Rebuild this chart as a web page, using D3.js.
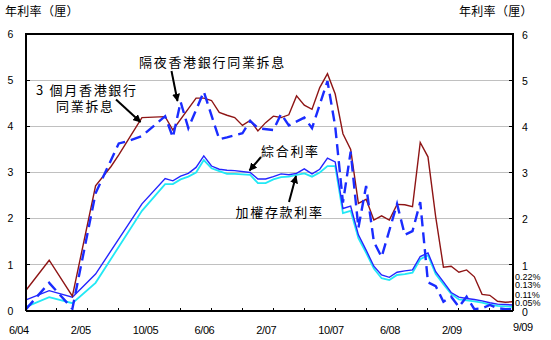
<!DOCTYPE html>
<html><head><meta charset="utf-8">
<script src="https://cdn.jsdelivr.net/npm/d3@7"></script>
<style>
body{margin:0;background:#fff;}
svg{display:block;}
.cjk{font-family:"Noto Sans CJK TC","Noto Sans CJK SC",sans-serif;}
.num{font-family:"Liberation Sans",Arial,sans-serif;}
</style>
</head><body>
<svg id="c" width="551" height="340"></svg>
<script>
// ---------- DATA ----------
const hibor3mDates = ["2004-06","2004-09","2004-12","2005-03","2005-05","2005-06","2005-09","2005-12","2006-01","2006-04","2006-05","2006-06","2006-07","2006-08","2006-09","2006-10","2006-11","2006-12","2007-01","2007-02","2007-03","2007-04","2007-05","2007-06","2007-07","2007-08","2007-09","2007-10","2007-11","2007-12","2008-01","2008-02","2008-03","2008-04","2008-05","2008-06","2008-07","2008-08","2008-09","2008-10","2008-11","2008-12","2009-01","2009-02","2009-03","2009-04","2009-05","2009-06","2009-07","2009-08","2009-09"];
const hibor3mValues = [0.45,1.10,0.32,2.71,3.13,3.38,4.19,4.21,3.92,4.61,4.61,4.56,4.30,4.24,4.19,4.02,4.13,3.90,4.08,4.22,4.19,4.25,4.66,4.46,4.37,4.84,5.14,4.70,3.84,3.50,2.33,2.42,1.97,2.06,1.97,2.31,2.30,2.26,3.65,3.34,2.04,0.95,0.97,0.84,0.89,0.74,0.36,0.34,0.21,0.19,0.20];

const hiborONDates = ["2004-06","2004-09","2004-12","2005-03","2005-06","2005-07","2005-09","2005-12","2006-01","2006-02","2006-03","2006-05","2006-07","2006-08","2006-10","2006-11","2006-12","2007-02","2007-03","2007-04","2007-06","2007-07","2007-09","2007-10","2007-11","2007-12","2008-01","2008-02","2008-03","2008-04","2008-06","2008-07","2008-08","2008-09","2008-10","2008-11","2008-12","2009-01","2009-02","2009-03","2009-04","2009-05","2009-06","2009-07","2009-08","2009-09"];
const hiborONValues = [0.04,0.61,0.05,2.55,3.63,3.67,3.79,4.22,3.76,4.53,3.96,4.75,3.72,3.76,3.85,4.12,3.96,3.92,4.27,4.02,4.19,3.96,4.98,4.00,2.35,3.45,1.80,2.71,1.50,1.17,2.32,1.65,1.73,2.36,0.62,0.54,0.20,0.31,0.09,0.31,0.04,0.06,0.13,0.06,0.04,0.04];

const rateDates = ["2004-06","2004-09","2004-12","2005-03","2005-09","2005-12","2006-01","2006-02","2006-03","2006-04","2006-05","2006-06","2006-07","2006-08","2006-09","2006-11","2006-12","2007-01","2007-02","2007-03","2007-04","2007-05","2007-06","2007-07","2007-08","2007-09","2007-10","2007-11","2007-12","2008-01","2008-02","2008-03","2008-04","2008-05","2008-06","2008-07","2008-08","2008-09","2008-10","2008-11","2008-12","2009-01","2009-02","2009-03","2009-04","2009-05","2009-06","2009-07","2009-08","2009-09"];
const compositeValues = [0.24,0.44,0.30,0.80,2.32,2.87,2.82,2.92,2.98,3.11,3.36,3.14,3.07,3.05,3.04,3.00,2.86,2.86,2.91,2.97,2.95,2.98,3.08,2.97,3.07,3.31,3.23,2.22,2.27,1.65,1.32,0.97,0.78,0.73,0.84,0.87,0.89,1.18,1.26,0.85,0.63,0.40,0.30,0.27,0.25,0.22,0.18,0.15,0.14,0.13];
const depositValues = [0.09,0.30,0.17,0.61,2.17,2.75,2.75,2.85,2.91,3.00,3.27,3.09,3.03,2.97,2.97,2.95,2.77,2.77,2.85,2.90,2.91,2.95,2.98,2.91,3.00,3.14,3.14,2.12,2.17,1.58,1.26,0.92,0.71,0.67,0.78,0.80,0.83,1.12,1.21,0.80,0.58,0.37,0.25,0.23,0.21,0.18,0.14,0.11,0.10,0.09];

const xTickLabels = ["6/04","2/05","10/05","6/06","2/07","10/07","6/08","2/09"];
const xEndLabel = "9/09";
const yTicks = [0,1,2,3,4,5,6];
const endValueLabels = ["0.22%","0.13%","0.11%","0.05%"];

// ---------- LAYOUT ----------
const svg = d3.select("#c");
const L = 26, R = 513, T = 34, B = 311;
const startYear = 2004, startMonth = 6;
const idx = s => { const [y,m] = s.split("-").map(Number); return (y-startYear)*12 + (m-startMonth); };
const labelIdx = s => { const [m,y] = s.split("/").map(Number); return (2000+y-startYear)*12 + (m-startMonth); };

const x = d3.scaleLinear().domain([0, idx("2009-09")]).range([L, R]);
const y = d3.scaleLinear().domain([0, 6]).range([B, T]);

// gridlines
svg.append("g").selectAll("line").data(yTicks.filter(v => v > 0 && v < 6)).join("line")
  .attr("x1", L).attr("x2", R).attr("y1", d => y(d)).attr("y2", d => y(d))
  .attr("stroke", "#c0c0c0").attr("stroke-width", 1).attr("shape-rendering","crispEdges");

// series
const line = d3.line().x(d => x(d[0])).y(d => y(d[1]));
function series(dates, vals){ return dates.map((d,i) => [idx(d), vals[i]]); }

svg.append("path").datum(series(rateDates, depositValues)).attr("d", line)
  .attr("fill","none").attr("stroke","#22e8f5").attr("stroke-width",1.8);
svg.append("path").datum(series(rateDates, compositeValues)).attr("d", line)
  .attr("fill","none").attr("stroke","#2424ff").attr("stroke-width",1.4);
svg.append("path").datum(series(hibor3mDates, hibor3mValues)).attr("d", line)
  .attr("fill","none").attr("stroke","#8e1515").attr("stroke-width",1.4);
svg.append("path").datum(series(hiborONDates, hiborONValues)).attr("d", line)
  .attr("fill","none").attr("stroke","#1a2cff").attr("stroke-width",2.4)
  .attr("stroke-dasharray","11,6");

// frame
svg.append("path").attr("d", `M${L},${B}V${T}H${R}V${B}`).attr("fill","none")
  .attr("stroke","#000").attr("stroke-width",1.2).attr("shape-rendering","crispEdges");
svg.append("line").attr("x1",L).attr("x2",R).attr("y1",B).attr("y2",B)
  .attr("stroke","#000").attr("stroke-width",1.5).attr("shape-rendering","crispEdges");

// y ticks (inward) + labels
const yl = svg.append("g").attr("class","num").attr("font-size","10.5px");
yl.selectAll("line.l").data(yTicks).join("line").attr("class","l")
  .attr("x1",L).attr("x2",L+4).attr("y1",d=>y(d)).attr("y2",d=>y(d)).attr("stroke","#000").attr("shape-rendering","crispEdges");
yl.selectAll("line.r").data(yTicks).join("line").attr("class","r")
  .attr("x1",R-4).attr("x2",R).attr("y1",d=>y(d)).attr("y2",d=>y(d)).attr("stroke","#000").attr("shape-rendering","crispEdges");
yl.selectAll("text.l").data(yTicks).join("text").attr("class","l")
  .attr("x",10.5).attr("y",d=>y(d)).attr("dy","0.36em").attr("text-anchor","middle").text(d=>d);
yl.selectAll("text.r").data(yTicks).join("text").attr("class","r")
  .attr("x",522).attr("y",d=>y(d)+1).attr("dy","0.36em").attr("text-anchor","start").text(d=>d);

// x ticks (inward, every 4 months)
const xTicks = d3.range(0, idx("2009-09"), 4);
svg.append("g").selectAll("line").data(xTicks).join("line")
  .attr("x1",d=>x(d)).attr("x2",d=>x(d)).attr("y1",B).attr("y2",B-3.5)
  .attr("stroke","#000").attr("shape-rendering","crispEdges");
const xl = svg.append("g").attr("class","num").attr("font-size","11px").attr("letter-spacing","-0.4px");
xl.selectAll("text").data(xTickLabels).join("text")
  .attr("x", d => x(labelIdx(d)) - 17).attr("y", 334).attr("text-anchor","start").text(d=>d);
xl.append("text").attr("x", x(labelIdx(xEndLabel))).attr("y", 331).attr("text-anchor","start").text(xEndLabel);

// end value labels
svg.append("g").attr("class","num").attr("font-size","9px")
  .selectAll("text").data(endValueLabels).join("text")
  .attr("x",515).attr("y",(d,i)=>[276.5,284.5,294.5,302.5][i]).attr("dy","0.36em").text(d=>d);

// axis titles
svg.append("text").attr("class","cjk").attr("font-size","12px").attr("letter-spacing","0.3px")
  .attr("x",5).attr("y",12).attr("dy","0.36em").text("年利率（厘）");
svg.append("text").attr("class","cjk").attr("font-size","12px").attr("letter-spacing","0.3px")
  .attr("x",459).attr("y",12).attr("dy","0.36em").text("年利率（厘）");

// annotations
const defs = svg.append("defs");
defs.append("marker").attr("id","ah").attr("viewBox","0 0 10 10").attr("refX",9).attr("refY",5)
  .attr("markerWidth",4).attr("markerHeight",4).attr("orient","auto")
  .append("path").attr("d","M0,0L10,5L0,10z").attr("fill","#000");
const notes = [
  {lines:["隔夜香港銀行同業拆息"], x:139, y:62.5, ax1:171.5, ay1:71, ax2:177.5, ay2:101},
  {lines:["3 個月香港銀行","同業拆息"], x:[36,56], y:[90,106.5], ax1:116, ay1:99.5, ax2:140.5, ay2:122},
  {lines:["綜合利率"], x:261, y:151.5, ax1:261, ay1:157, ax2:249.5, ay2:170.5},
  {lines:["加權存款利率"], x:235.5, y:212.5, ax1:289, ay1:202, ax2:296, ay2:176}
];
const ng = svg.append("g").attr("class","cjk").attr("font-size","13px").attr("letter-spacing","1.7px");
notes.forEach(n => {
  n.lines.forEach((t,i) => {
    ng.append("text").attr("x", Array.isArray(n.x)?n.x[i]:n.x).attr("y", Array.isArray(n.y)?n.y[i]:n.y)
      .attr("dy","0.36em").text(t);
  });
  svg.append("line").attr("x1",n.ax1).attr("y1",n.ay1).attr("x2",n.ax2).attr("y2",n.ay2)
    .attr("stroke","#000").attr("stroke-width",2).attr("marker-end","url(#ah)");
});
</script>
</body></html>
